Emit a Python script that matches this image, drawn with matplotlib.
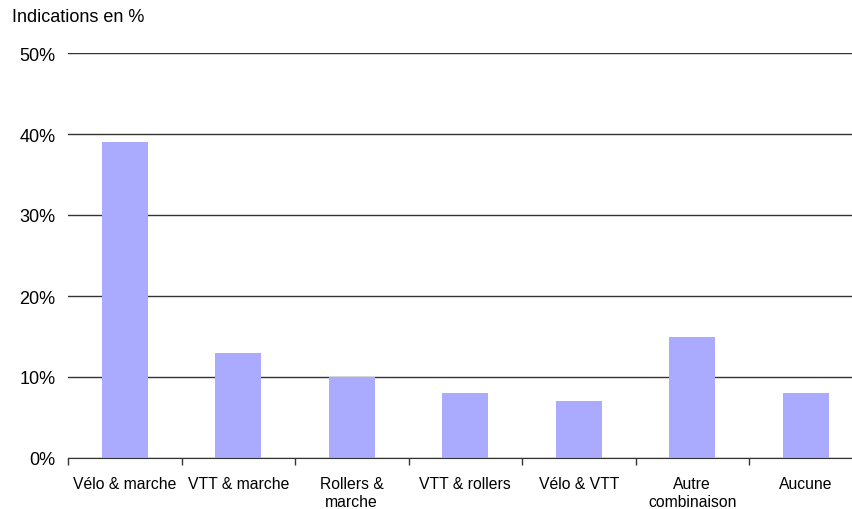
import matplotlib
matplotlib.use("Agg")
import matplotlib.pyplot as plt
import numpy as np

categories = ["Vélo & marche", "VTT & marche", "Rollers &\nmarche", "VTT & rollers",
              "Vélo & VTT", "Autre\ncombinaison", "Aucune"]
values = [39, 13, 10, 8, 7, 15, 8]
yticks = [0, 10, 20, 30, 40, 50]
ytick_labels = ["0%", "10%", "20%", "30%", "40%", "50%"]

plt.rcParams['font.family'] = ['Liberation Sans', 'DejaVu Sans']

fig = plt.figure(figsize=(8.53, 5.10), dpi=100)
ax = fig.add_axes([68/853, 1-459/510, 794.5/853, 405/510])

x = np.arange(len(categories))
ax.bar(x, values, width=0.405, color="#AAAAFF", zorder=2)

ax.set_xlim(-0.5, len(categories) - 0.5)
ax.set_ylim(0, 50)
ax.set_yticks(yticks)
ax.set_yticklabels(ytick_labels, fontsize=13)
ax.yaxis.grid(True, color="#333333", linewidth=1)
ax.set_axisbelow(True)
ax.tick_params(axis='y', length=0, pad=9)

ax.set_xticks(x)
ax.set_xticklabels(categories, fontsize=11.3, linespacing=1.25, va='top')
ax.set_xticks(np.arange(len(categories) + 1) - 0.5, minor=True)
ax.tick_params(axis='x', which='major', length=0, pad=13)
ax.tick_params(axis='x', which='minor', length=5, color="#333333", width=1)

for s in ["top", "right", "left"]:
    ax.spines[s].set_visible(False)
ax.spines["bottom"].set_color("#333333")

fig.text(12/853, 1-18/510, "Indications en %", fontsize=13, va='center', ha='left')

fig.savefig("out.png", dpi=100)
